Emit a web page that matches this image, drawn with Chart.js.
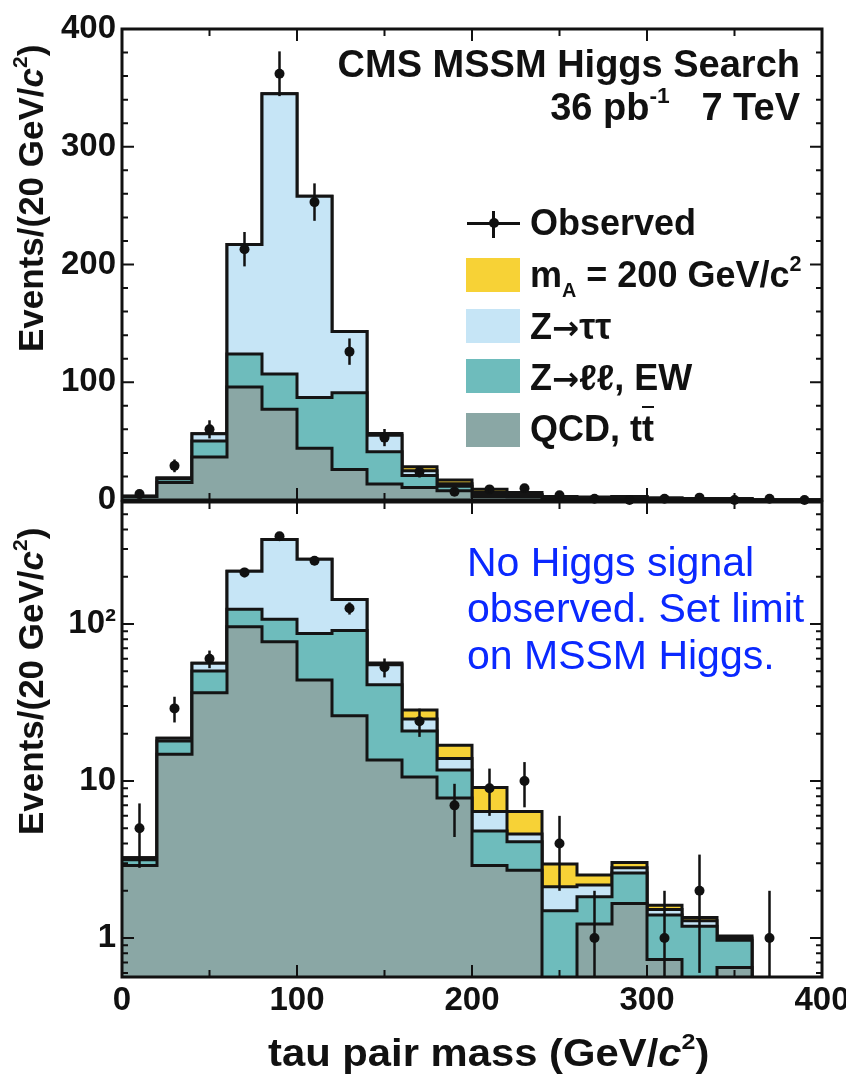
<!DOCTYPE html>
<html><head><meta charset="utf-8">
<script src="https://cdn.jsdelivr.net/npm/chart.js@4.4.1/dist/chart.umd.min.js"></script>
<style>
html,body{margin:0;padding:0;background:#fff;}
#wrap{position:relative;width:846px;height:1074px;overflow:hidden;font-family:"Liberation Sans",Arial,Helvetica,sans-serif;color:#111;}
canvas{position:absolute;left:0;top:0;}
.t{position:absolute;white-space:nowrap;line-height:1;}
.b{font-weight:bold;}
sup{font-size:0.6em;line-height:0;vertical-align:0.75em;}
.sub{font-size:0.55em;line-height:0;vertical-align:-0.5em;}
.rot{transform-origin:0 0;transform:rotate(-90deg);}
.sw{position:absolute;width:54px;height:34px;}
.ov{text-decoration:overline;text-decoration-thickness:2px;}
.ar{font-family:"DejaVu Sans",sans-serif;font-weight:bold;font-size:0.9em;}
</style></head>
<body><div id="wrap">
<canvas id="cTop" width="846" height="540"></canvas>
<canvas id="cBot" width="846" height="1074"></canvas>

<div class="t b" style="right:46px;top:45px;font-size:38px;">CMS MSSM Higgs Search</div>
<div class="t b" style="right:46px;top:88px;font-size:38px;">36 pb<sup>-1</sup>&nbsp;&nbsp;&nbsp;7 TeV</div>

<div style="position:absolute;left:467px;top:222px;width:53px;height:2.5px;background:#111;"></div>
<div style="position:absolute;left:492px;top:211px;width:3px;height:27px;background:#111;"></div>
<div style="position:absolute;left:488.5px;top:218px;width:10px;height:10px;border-radius:50%;background:#111;"></div>
<div class="t b" style="left:530px;top:205px;font-size:36px;">Observed</div>

<div class="sw" style="left:466px;top:258px;background:#f7d236;"></div>
<div class="t b" style="left:530px;top:257px;font-size:36px;">m<span class="sub">A</span> = 200 GeV/c<sup>2</sup></div>
<div class="sw" style="left:466px;top:309px;background:#c6e5f6;"></div>
<div class="t b" style="left:530px;top:309px;font-size:36px;">Z<span class="ar">→</span>ττ</div>
<div class="sw" style="left:466px;top:359px;background:#6ebcbc;"></div>
<div class="t b" style="left:530px;top:360px;font-size:36px;">Z<span class="ar">→</span>ℓℓ, EW</div>
<div class="sw" style="left:466px;top:413px;background:#8aa7a5;"></div>
<div class="t b" style="left:530px;top:411px;font-size:36px;">QCD, t<span class="ov">t</span></div>

<div class="t" style="left:467px;top:542px;font-size:41px;color:#0a28ff;">No Higgs signal</div>
<div class="t" style="left:467px;top:588px;font-size:41px;color:#0a28ff;">observed. Set limit</div>
<div class="t" style="left:467px;top:635px;font-size:41px;color:#0a28ff;">on MSSM Higgs.</div>

<div class="t b rot" style="left:13px;top:352px;font-size:35px;">Events/(20 GeV/<i>c</i><sup>2</sup>)</div>
<div class="t b rot" style="left:13px;top:835px;font-size:35px;">Events/(20 GeV/<i>c</i><sup>2</sup>)</div>
<div class="t b" style="left:268px;top:1034px;font-size:38px;transform-origin:0 0;transform:scaleX(1.1);">tau pair mass (GeV/<i>c</i><sup>2</sup>)</div>
</div>
<script>
// ---- data (20 GeV bins, 0-400 GeV) ----
const binEdges   = [0,20,40,60,80,100,120,140,160,180,200,220,240,260,280,300,320,340,360,380,400];
const binCenters = [10,30,50,70,90,110,130,150,170,190,210,230,250,270,290,310,330,350,370,390];
const qcdTT      = [2.9,14.8,36.5,96,77,44,26,13.6,10.6,7.8,2.9,2.7,0,1.23,1.66,0.73,0,0.65,0,0];
const zllEW      = [0.25,3.2,13.7,28,30,43,65,27.4,10.2,3.95,1.9,1.4,1.49,0.6,0.94,0.67,1.19,0.32,0,0];
const zTauTau    = [0.1,0.7,6.0,93,238,171,52,14,4.0,2.15,1.6,0.5,0.63,0.35,0.2,0.12,0.1,0.03,0,0];
const signalMA200= [0,0,0,0,0,0,0,1.5,3.5,3.0,2.7,1.8,0.84,0.34,0.23,0.1,0.06,0.03,0,0];
const observed   = [5,29,60,213,362,253,126,53,24,7,9,10,4,1,0,1,2,0,1,0];
const observedErr= [2.2,5.4,7.7,14.6,19.0,15.9,11.2,7.3,4.9,2.6,3.0,3.2,2.0,1.0,0,1.0,1.4,0,1.0,0];
// ticks
const xMajorTicks = [0,100,200,300,400];
const xMinorTicks = [50,150,250,350];
const linYMajor   = [0,100,200,300,400];
const linYMinor   = [20,40,60,80,120,140,160,180,220,240,260,280,320,340,360,380];
const logYMajor   = [1,10,100];
const logYMinor   = [0.6,0.7,0.8,0.9,2,3,4,5,6,7,8,9,20,30,40,50,60,70,80,90,200,300,400,500];

const COL = {sig:'#f7d236', ztt:'#c6e5f6', ew:'#6ebcbc', qcd:'#8aa7a5', line:'#141414'};
const LOG_FLOOR = 1e-3;

function cumulate(...arrs){ return arrs[0].map((_, i) => arrs.reduce((s, a) => s + a[i], 0)); }
const cumQCD = cumulate(qcdTT);
const cumEW  = cumulate(qcdTT, zllEW);
const cumZtt = cumulate(qcdTT, zllEW, zTauTau);
const cumAll = cumulate(qcdTT, zllEW, zTauTau, signalMA200);

function steps(vals, isLog){
  const f = v => isLog ? Math.max(v, LOG_FLOOR) : v;
  const pts = vals.map((v, i) => ({x: binEdges[i], y: f(v)}));
  pts.push({x: binEdges[binEdges.length - 1], y: f(vals[vals.length - 1])});
  return pts;
}
function layer(vals, color, order, isLog){
  return {data: steps(vals, isLog), backgroundColor: color, borderColor: COL.line, borderWidth: 3,
          fill: 'start', stepped: true, pointRadius: 0, tension: 0, order};
}
function datasets(isLog){
  return [
    layer(cumAll, COL.sig, 4, isLog),
    layer(cumZtt, COL.ztt, 3, isLog),
    layer(cumEW,  COL.ew,  2, isLog),
    layer(cumQCD, COL.qcd, 1, isLog),
    {data: observed.map((v, i) => ({x: binCenters[i], y: (isLog && v <= 0) ? null : v})),
     showLine: false, pointRadius: 5, pointHoverRadius: 5, pointBackgroundColor: '#111', pointBorderColor: '#111',
     pointBorderWidth: 0, order: 0, clip: false}
  ];
}

const errorBars = {
  id: 'errorBars',
  afterDatasetsDraw(chart, args, o){
    const {ctx, chartArea: a, scales: {x, y}} = chart;
    ctx.save();
    ctx.beginPath(); ctx.rect(a.left, a.top, a.right - a.left, a.bottom - a.top); ctx.clip();
    ctx.strokeStyle = '#111'; ctx.lineWidth = 2.5;
    observed.forEach((v, i) => {
      const e = observedErr[i];
      if (e <= 0 || (o.log && v <= 0)) return;
      const px = x.getPixelForValue(binCenters[i]);
      const hi = y.getPixelForValue(v + e);
      const lo = (v - e > 0) ? y.getPixelForValue(v - e) : a.bottom + 2;
      ctx.beginPath(); ctx.moveTo(px, hi); ctx.lineTo(px, lo); ctx.stroke();
    });
    ctx.restore();
  }
};
const frameTicks = {
  id: 'frameTicks',
  afterDatasetsDraw(chart, args, o){
    const {ctx, chartArea: a, scales: {x, y}} = chart;
    ctx.save();
    ctx.strokeStyle = '#111'; ctx.lineWidth = 2;
    ctx.beginPath();
    const xt = (vals, len) => vals.forEach(v => { const p = x.getPixelForValue(v);
      ctx.moveTo(p, a.bottom); ctx.lineTo(p, a.bottom - len); ctx.moveTo(p, a.top); ctx.lineTo(p, a.top + len); });
    const yt = (vals, len) => vals.forEach(v => { const p = y.getPixelForValue(v);
      if (p < a.top - 0.5 || p > a.bottom + 0.5) return;
      ctx.moveTo(a.left, p); ctx.lineTo(a.left + len, p); ctx.moveTo(a.right, p); ctx.lineTo(a.right - len, p); });
    xt(xMajorTicks, 12); xt(xMinorTicks, 7);
    yt(o.log ? logYMajor : linYMajor, 12); yt(o.log ? logYMinor : linYMinor, 6);
    ctx.stroke();
    ctx.lineWidth = 3;
    ctx.strokeRect(a.left, a.top, a.right - a.left, a.bottom - a.top);
    ctx.restore();
  }
};

Chart.defaults.font.family = '"Liberation Sans", Arial, Helvetica, sans-serif';
Chart.defaults.color = '#111';
const tickFont = {size: 33, weight: 'bold'};

new Chart(document.getElementById('cTop'), {
  type: 'line',
  data: {datasets: datasets(false)},
  options: {
    responsive: false, animation: false, devicePixelRatio: 1,
    layout: {padding: {top: 29, right: 24, bottom: 40, left: 0}},
    plugins: {legend: {display: false}, tooltip: {enabled: false}, errorBars: {log: false}, frameTicks: {log: false}},
    scales: {
      x: {type: 'linear', min: 0, max: 400, display: false},
      y: {type: 'linear', min: 0, max: 400,
          ticks: {stepSize: 100, padding: 6, font: tickFont, color: '#111'},
          grid: {display: false, drawTicks: false}, border: {display: false},
          afterFit(s){ s.width = 122; s.paddingTop = 0; s.paddingBottom = 0; }}
    }
  },
  plugins: [errorBars, frameTicks]
});

new Chart(document.getElementById('cBot'), {
  type: 'line',
  data: {datasets: datasets(true)},
  options: {
    responsive: false, animation: false, devicePixelRatio: 1,
    layout: {padding: {top: 502, right: 24, bottom: 0, left: 0}},
    plugins: {legend: {display: false}, tooltip: {enabled: false}, errorBars: {log: true}, frameTicks: {log: true}},
    scales: {
      x: {type: 'linear', min: 0, max: 400,
          ticks: {stepSize: 100, padding: 4, font: tickFont, color: '#111', maxRotation: 0},
          grid: {display: false, drawTicks: false}, border: {display: false},
          afterFit(s){ s.height = 97; s.paddingLeft = 0; s.paddingRight = 0; }},
      y: {type: 'logarithmic', min: 0.565, max: 598,
          ticks: {padding: 6, font: tickFont, color: '#111',
                  callback: v => (v === 100 ? '10²' : String(v))},
          afterBuildTicks(s){ s.ticks = logYMajor.map(v => ({value: v})); },
          grid: {display: false, drawTicks: false}, border: {display: false},
          afterFit(s){ s.width = 122; s.paddingTop = 0; s.paddingBottom = 0; }}
    }
  },
  plugins: [errorBars, frameTicks]
});
</script>
</body></html>
